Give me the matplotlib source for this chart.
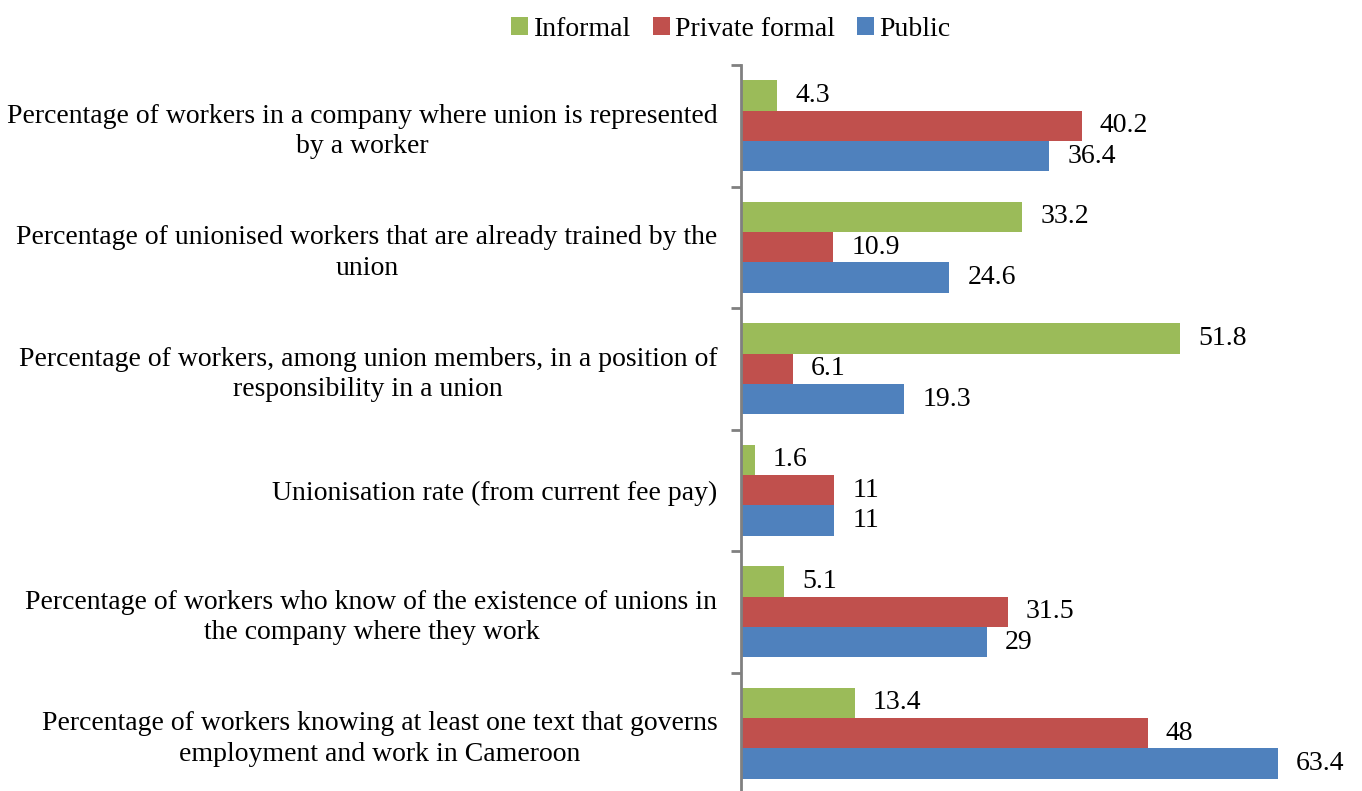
import matplotlib.pyplot as plt
import numpy as np

plt.rcParams['font.family'] = ['Liberation Serif', 'DejaVu Serif']

categories = [
    "Percentage of workers in a company where union is represented\nby a worker",
    "Percentage of unionised workers that are already trained by the\nunion",
    "Percentage of workers, among union members, in a position of\nresponsibility in a union",
    "Unionisation rate (from current fee pay)",
    "Percentage of workers who know of the existence of unions in\nthe company where they work",
    "Percentage of workers knowing at least one text that governs\nemployment and work in Cameroon",
]
series_names = ["Informal", "Private formal", "Public"]
informal = [4.3, 33.2, 51.8, 1.6, 5.1, 13.4]
private_formal = [40.2, 10.9, 6.1, 11, 31.5, 48]
public = [36.4, 24.6, 19.3, 11, 29, 63.4]
colors = ['#9BBB59', '#C0504D', '#4F81BD']

W, H = 1362, 791
fig = plt.figure(figsize=(W / 100, H / 100), dpi=100)
ax = fig.add_axes([741 / W, -3 / H, (1334 - 741) / W, (794 - 65) / H])

y = np.arange(len(categories))
h = 0.25
for i, (vals, name, c) in enumerate(zip([informal, private_formal, public], series_names, colors)):
    pos = y + (i - 1) * h
    ax.barh(pos, vals, height=h, color=c, label=name)
    for p, v in zip(pos, vals):
        ax.annotate(f"{v:g}", (v, p), xytext=(13, 0), textcoords='offset points',
                    va='center', ha='left', fontsize=20)

ax.set_xlim(0, 70)
ax.set_ylim(len(categories) - 0.5, -0.5)
ax.set_yticks(y)
ax.set_yticklabels(categories, fontsize=20, ha='right', multialignment='center',
                   linespacing=1.3)
ax.tick_params(axis='y', which='major', length=0, pad=17)
ax.set_yticks(np.arange(-0.5, len(categories), 1.0), minor=True)
ax.tick_params(axis='y', which='minor', length=7, width=2, color='#808080')
ax.set_xticks([])
for s in ['top', 'right', 'bottom']:
    ax.spines[s].set_visible(False)
ax.spines['left'].set_color('#808080')
ax.spines['left'].set_linewidth(2)

fig.legend(loc='upper center', bbox_to_anchor=(731 / W, 1.01), ncol=3, frameon=False,
           fontsize=20, handlelength=0.6, handleheight=0.6, handletextpad=0.2,
           columnspacing=0.8)

fig.savefig('out.png', dpi=100)
